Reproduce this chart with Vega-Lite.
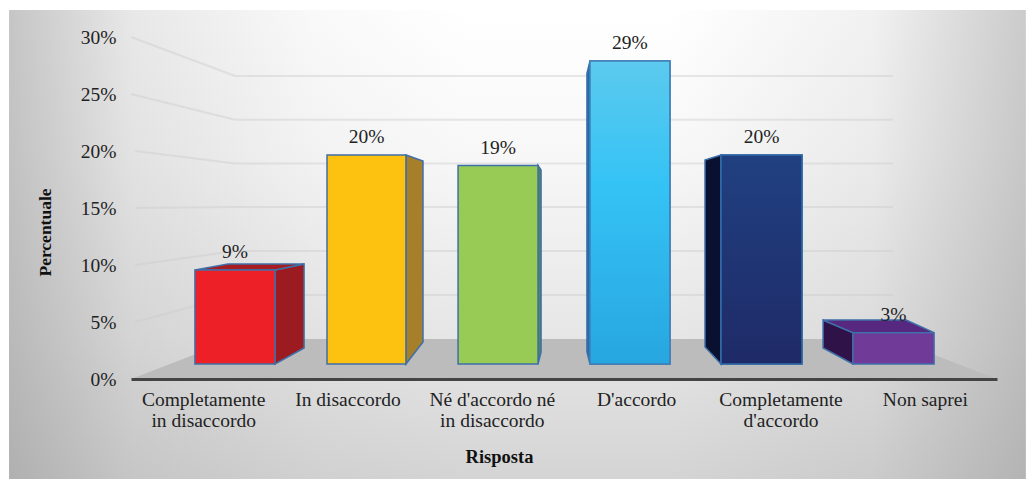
{
  "$schema": "https://vega.github.io/schema/vega-lite/v6.json",
  "width": 866,
  "height": 342,
  "autosize": {"type": "none"},
  "padding": {"left": 131, "top": 37, "right": 29, "bottom": 100},
  "background": "#ffffff",
  "config": {"view": {"stroke": null}, "font": "Liberation Serif"},
  "datasets": {
    "sfondo": [{"x0": -0.845, "x1": 6.2, "y0": -8.77, "y1": 32.37}],
    "griglia": [
      {"tick": 30, "pos": 0.0, "liv": 30},
      {"tick": 30, "pos": 0.721, "liv": 26.58},
      {"tick": 30, "pos": 5.279, "liv": 26.58},
      {"tick": 25, "pos": 0.0, "liv": 25},
      {"tick": 25, "pos": 0.721, "liv": 22.75},
      {"tick": 25, "pos": 5.279, "liv": 22.75},
      {"tick": 20, "pos": 0.03, "liv": 20},
      {"tick": 20, "pos": 0.721, "liv": 18.91},
      {"tick": 20, "pos": 5.279, "liv": 18.91},
      {"tick": 15, "pos": 0.03, "liv": 15},
      {"tick": 15, "pos": 0.721, "liv": 15.09},
      {"tick": 15, "pos": 5.279, "liv": 15.09},
      {"tick": 10, "pos": 0.03, "liv": 10},
      {"tick": 10, "pos": 0.721, "liv": 11.23},
      {"tick": 10, "pos": 5.279, "liv": 11.23},
      {"tick": 5, "pos": 0.03, "liv": 5},
      {"tick": 5, "pos": 0.721, "liv": 7.37},
      {"tick": 5, "pos": 5.279, "liv": 7.37}
    ],
    "pavimento": [
      {"pos": 0.0, "alto": 0, "basso": 0},
      {"pos": 0.721, "alto": 3.51, "basso": 0},
      {"pos": 5.279, "alto": 3.51, "basso": 0},
      {"pos": 6.0, "alto": 0, "basso": 0}
    ],
    "facce": [
      {"faccia": "rosso lato", "pos": 0.998, "alto": 9, "basso": 0},
      {"faccia": "rosso lato", "pos": 1.199, "alto": 9.57, "basso": 1.53},
      {"faccia": "rosso sopra", "pos": 0.443, "alto": 9, "basso": 9},
      {"faccia": "rosso sopra", "pos": 0.672, "alto": 9.57, "basso": 9},
      {"faccia": "rosso sopra", "pos": 0.998, "alto": 9.57, "basso": 9},
      {"faccia": "rosso sopra", "pos": 1.199, "alto": 9.57, "basso": 9.57},
      {"faccia": "giallo lato", "pos": 1.905, "alto": 20, "basso": 0},
      {"faccia": "giallo lato", "pos": 2.023, "alto": 19.43, "basso": 2.1},
      {"faccia": "verde lato", "pos": 2.82, "alto": 19, "basso": 0},
      {"faccia": "verde lato", "pos": 2.841, "alto": 18.56, "basso": 1.15},
      {"faccia": "azzurro lato", "pos": 3.159, "alto": 27.8, "basso": 1.15},
      {"faccia": "azzurro lato", "pos": 3.18, "alto": 29, "basso": 0},
      {"faccia": "blu lato", "pos": 3.977, "alto": 19.52, "basso": 1.63},
      {"faccia": "blu lato", "pos": 4.088, "alto": 20, "basso": 0},
      {"faccia": "viola lato", "pos": 4.795, "alto": 4.21, "basso": 1.53},
      {"faccia": "viola lato", "pos": 5.002, "alto": 3, "basso": 0},
      {"faccia": "viola sopra", "pos": 4.795, "alto": 4.21, "basso": 4.21},
      {"faccia": "viola sopra", "pos": 5.002, "alto": 4.21, "basso": 3},
      {"faccia": "viola sopra", "pos": 5.37, "alto": 4.21, "basso": 3},
      {"faccia": "viola sopra", "pos": 5.564, "alto": 3, "basso": 3}
    ],
    "risposte": [
      {"risposta": "Completamente in disaccordo", "valore": 9, "etichetta": "9%", "sx": 0.443, "dx": 0.998, "centro": 0.721},
      {"risposta": "In disaccordo", "valore": 20, "etichetta": "20%", "sx": 1.358, "dx": 1.905, "centro": 1.632},
      {"risposta": "Né d'accordo né in disaccordo", "valore": 19, "etichetta": "19%", "sx": 2.266, "dx": 2.82, "centro": 2.543},
      {"risposta": "D'accordo", "valore": 29, "etichetta": "29%", "sx": 3.18, "dx": 3.734, "centro": 3.457},
      {"risposta": "Completamente d'accordo", "valore": 20, "etichetta": "20%", "sx": 4.088, "dx": 4.649, "centro": 4.369},
      {"risposta": "Non saprei", "valore": 3, "etichetta": "3%", "sx": 5.002, "dx": 5.564, "centro": 5.283}
    ]
  },
  "layer": [
    {
      "description": "Sfondo: sfumatura verticale",
      "data": {"name": "sfondo"},
      "mark": {
        "type": "rect",
        "fill": {
          "gradient": "linear", "x1": 0, "y1": 0, "x2": 0, "y2": 1,
          "stops": [
            {"offset": 0, "color": "#ffffff"},
            {"offset": 0.3, "color": "#f8f8f8"},
            {"offset": 0.7, "color": "#e6e6e6"},
            {"offset": 1, "color": "#d4d4d4"}
          ]
        }
      },
      "encoding": {
        "x": {"field": "x0", "type": "quantitative", "scale": {"domain": [0, 6], "nice": false, "zero": false}},
        "x2": {"field": "x1"},
        "y": {"field": "y0", "type": "quantitative", "scale": {"domain": [0, 30], "nice": false, "zero": false}, "axis": null},
        "y2": {"field": "y1"}
      }
    },
    {
      "description": "Sfondo: bordi laterali piu scuri",
      "data": {"name": "sfondo"},
      "mark": {
        "type": "rect",
        "fill": {
          "gradient": "linear", "x1": 0, "y1": 0, "x2": 1, "y2": 0,
          "stops": [
            {"offset": 0, "color": "rgba(140,140,140,0.5)"},
            {"offset": 0.12, "color": "rgba(140,140,140,0.2)"},
            {"offset": 0.3, "color": "rgba(140,140,140,0.05)"},
            {"offset": 0.45, "color": "rgba(140,140,140,0)"},
            {"offset": 0.65, "color": "rgba(140,140,140,0)"},
            {"offset": 0.85, "color": "rgba(140,140,140,0.12)"},
            {"offset": 1, "color": "rgba(140,140,140,0.45)"}
          ]
        }
      },
      "encoding": {
        "x": {"field": "x0", "type": "quantitative", "scale": {"domain": [0, 6], "nice": false, "zero": false}},
        "x2": {"field": "x1"},
        "y": {"field": "y0", "type": "quantitative", "scale": {"domain": [0, 30], "nice": false, "zero": false}, "axis": null},
        "y2": {"field": "y1"}
      }
    },
    {
      "description": "Griglia su parete laterale e di fondo",
      "data": {"name": "griglia"},
      "mark": {"type": "line", "color": "rgba(205,205,205,0.45)", "strokeWidth": 2},
      "encoding": {
        "x": {"field": "pos", "type": "quantitative", "scale": {"domain": [0, 6], "nice": false, "zero": false}},
        "y": {"field": "liv", "type": "quantitative", "scale": {"domain": [0, 30], "nice": false, "zero": false}, "axis": null},
        "detail": {"field": "tick"}
      }
    },
    {
      "description": "Pavimento e assi in percentuale",
      "data": {"name": "pavimento"},
      "mark": {"type": "area", "orient": "vertical", "color": "#bcbcbc"},
      "encoding": {
        "x": {
          "field": "pos", "type": "quantitative",
          "scale": {"domain": [0, 6], "nice": false, "zero": false},
          "axis": {
            "values": [0.5, 1.5, 2.5, 3.5, 4.5, 5.5],
            "zindex": 1,
            "grid": false,
            "ticks": false,
            "domainColor": "#444444",
            "domainWidth": 3,
            "labelFont": "Liberation Serif",
            "labelFontSize": 19.5,
            "labelColor": "#222222",
            "labelPadding": 11,
            "labelLineHeight": 21,
            "labelOverlap": false,
            "labelFlush": false,
            "labelExpr": "split(['Completamente|in disaccordo','In disaccordo','Né d\\'accordo né|in disaccordo','D\\'accordo','Completamente|d\\'accordo','Non saprei'][round(datum.value - 0.5)], '|')",
            "title": "Risposta",
            "titleFont": "Liberation Serif",
            "titleFontSize": 18.5,
            "titleFontWeight": "bold",
            "titleColor": "#111111",
            "titleX": 368,
            "titleY": 68
          }
        },
        "y": {
          "field": "alto", "type": "quantitative",
          "scale": {"domain": [0, 30], "nice": false, "zero": false},
          "axis": {
            "values": [0, 5, 10, 15, 20, 25, 30],
            "zindex": 1,
            "grid": false,
            "ticks": false,
            "domain": false,
            "labelFont": "Liberation Serif",
            "labelFontSize": 19.5,
            "labelColor": "#222222",
            "labelPadding": 15,
            "labelExpr": "datum.value + '%'",
            "title": "Percentuale",
            "titleFont": "Liberation Serif",
            "titleFontSize": 17.5,
            "titleFontWeight": "bold",
            "titleColor": "#111111",
            "titleAngle": -90,
            "titleX": -77,
            "titleY": 195
          }
        },
        "y2": {"field": "basso"}
      }
    },
    {
      "description": "Facce laterali e superiori delle barre",
      "data": {"name": "facce"},
      "mark": {"type": "area", "orient": "vertical", "stroke": "#3f6fa8", "strokeWidth": 1.5},
      "encoding": {
        "x": {"field": "pos", "type": "quantitative", "scale": {"domain": [0, 6], "nice": false, "zero": false}},
        "y": {"field": "alto", "type": "quantitative", "scale": {"domain": [-1.435, 31.29], "nice": false, "zero": false}, "axis": null},
        "y2": {"field": "basso"},
        "detail": {"field": "faccia"},
        "fill": {
          "field": "faccia", "type": "nominal", "legend": null,
          "scale": {
            "domain": ["rosso lato", "rosso sopra", "giallo lato", "verde lato", "azzurro lato", "blu lato", "viola lato", "viola sopra"],
            "range": ["#9c1b20", "#a61c23", "#a57f2a", "#4f8a4c", "#1c6fae", "#0a1030", "#2f1248", "#57287f"]
          }
        }
      }
    },
    {
      "description": "Facce frontali delle barre, dal valore di ciascuna risposta",
      "data": {"name": "risposte"},
      "mark": {"type": "rect", "stroke": "#3f6fa8", "strokeWidth": 1.5},
      "encoding": {
        "x": {"field": "sx", "type": "quantitative", "scale": {"domain": [0, 6], "nice": false, "zero": false}},
        "x2": {"field": "dx"},
        "y": {"field": "valore", "type": "quantitative", "scale": {"domain": [-1.435, 31.29], "nice": false, "zero": false}, "axis": null},
        "y2": {"datum": 0},
        "fill": {
          "field": "risposta", "type": "nominal", "legend": null,
          "scale": {
            "domain": ["Completamente in disaccordo", "In disaccordo", "Né d'accordo né in disaccordo", "D'accordo", "Completamente d'accordo", "Non saprei"],
            "range": ["#ee2027", "#fdc20f", "#97cb56", "#33c1f3", "#1f3878", "#703a98"]
          }
        }
      }
    },
    {
      "description": "Sfumatura della barra azzurra",
      "data": {"name": "risposte"},
      "transform": [{"filter": "datum.risposta === \"D'accordo\""}],
      "mark": {
        "type": "rect", "stroke": "#3f7fb8", "strokeWidth": 1.5,
        "fill": {
          "gradient": "linear", "x1": 0, "y1": 0, "x2": 0, "y2": 1,
          "stops": [
            {"offset": 0, "color": "#5ccaee"},
            {"offset": 0.4, "color": "#35c3f5"},
            {"offset": 1, "color": "#27a6e0"}
          ]
        }
      },
      "encoding": {
        "x": {"field": "sx", "type": "quantitative", "scale": {"domain": [0, 6], "nice": false, "zero": false}},
        "x2": {"field": "dx"},
        "y": {"field": "valore", "type": "quantitative", "scale": {"domain": [-1.435, 31.29], "nice": false, "zero": false}, "axis": null},
        "y2": {"datum": 0}
      }
    },
    {
      "description": "Sfumatura della barra blu scuro",
      "data": {"name": "risposte"},
      "transform": [{"filter": "datum.risposta === \"Completamente d'accordo\""}],
      "mark": {
        "type": "rect", "stroke": "#2f6aa8", "strokeWidth": 1.5,
        "fill": {
          "gradient": "linear", "x1": 0, "y1": 0, "x2": 0, "y2": 1,
          "stops": [
            {"offset": 0, "color": "#204080"},
            {"offset": 1, "color": "#1f2a68"}
          ]
        }
      },
      "encoding": {
        "x": {"field": "sx", "type": "quantitative", "scale": {"domain": [0, 6], "nice": false, "zero": false}},
        "x2": {"field": "dx"},
        "y": {"field": "valore", "type": "quantitative", "scale": {"domain": [-1.435, 31.29], "nice": false, "zero": false}, "axis": null},
        "y2": {"datum": 0}
      }
    },
    {
      "description": "Etichette dei valori sopra le barre",
      "data": {"name": "risposte"},
      "mark": {"type": "text", "font": "Liberation Serif", "fontSize": 19.5, "color": "#222222", "dy": -17.5, "baseline": "middle"},
      "encoding": {
        "x": {"field": "centro", "type": "quantitative", "scale": {"domain": [0, 6], "nice": false, "zero": false}},
        "y": {"field": "valore", "type": "quantitative", "scale": {"domain": [-1.435, 31.29], "nice": false, "zero": false}, "axis": null},
        "text": {"field": "etichetta"}
      }
    }
  ],
  "resolve": {"scale": {"y": "independent", "fill": "independent"}}
}
